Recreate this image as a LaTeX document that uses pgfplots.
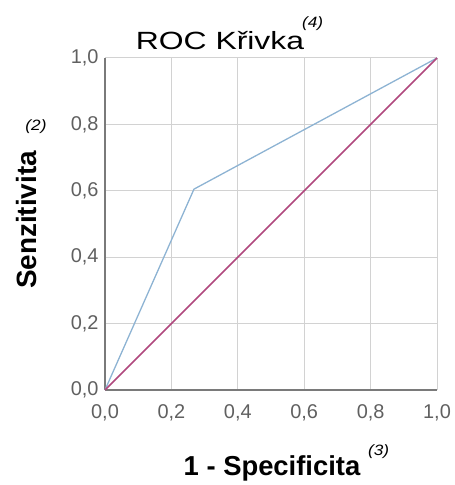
\documentclass[border=0pt]{standalone}
\usepackage{pgfplots}
\pgfplotsset{compat=1.18}
\usepackage{fontspec}
\setmainfont{Liberation Sans}
\usepackage{graphicx}
\definecolor{roc}{HTML}{8DB3D3}
\definecolor{diag}{HTML}{B0487E}
\definecolor{tickc}{HTML}{606060}
\definecolor{gridc}{HTML}{D2D2D2}
\definecolor{axc}{HTML}{7A7A7A}
\newcommand\sx[1]{\scalebox{1.15}[1]{#1}}
\begin{document}
\begin{tikzpicture}[x=1bp,y=1bp]
\begin{axis}[
  at={(0,0)}, anchor=south west,
  scale only axis, width=332bp, height=332bp,
  xmin=0, xmax=1, ymin=0, ymax=1,
  axis x line*=bottom, axis y line*=left,
  axis line style={-, color=axc, line width=1.4pt},
  grid=major, major grid style={color=gridc, line width=1pt},
  major tick length=0pt,
  xtick={0,0.2,0.4,0.6,0.8,1}, ytick={0,0.2,0.4,0.6,0.8,1},
  xticklabels={{0,0},{0,2},{0,4},{0,6},{0,8},{1,0}},
  yticklabels={{0,0},{0,2},{0,4},{0,6},{0,8},{1,0}},
  ticklabel style={font=\fontsize{20}{22}\selectfont, text=tickc},
  xticklabel style={yshift=-11bp},
  yticklabel style={xshift=-3bp},
  clip=false,
]
\addplot[color=roc, line width=1.3pt] coordinates {(0,0) (0.268,0.605) (1,1)};
\addplot[color=diag, line width=1.6pt] coordinates {(0,0) (1,1)};
\end{axis}
\node[anchor=base] at (115,340) {\fontsize{25}{28}\selectfont\scalebox{1.28}[1]{ROC Křivka}};
\node[anchor=base west, inner sep=0] at (197,362) {\fontsize{15}{17}\selectfont\itshape\sx{(4)}};
\node[anchor=base] at (167,-85) {\fontsize{27.5}{30}\selectfont\bfseries 1 - Specificita};
\node[anchor=base west, inner sep=0] at (263,-65) {\fontsize{15}{17}\selectfont\itshape\sx{(3)}};
\node[rotate=90] at (-78,170) {\fontsize{28}{30}\selectfont\bfseries Senzitivita};
\node at (-69,263) {\fontsize{15}{17}\selectfont\itshape\sx{(2)}};
\useasboundingbox (-105,-95) rectangle (349,390);
\end{tikzpicture}
\end{document}
